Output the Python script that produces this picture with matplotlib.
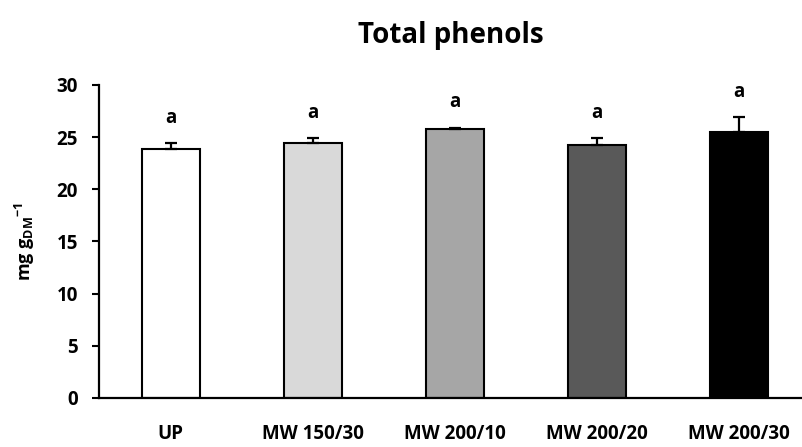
import matplotlib
matplotlib.use("Agg")
import matplotlib.pyplot as plt

categories = ["UP", "MW 150/30", "MW 200/10", "MW 200/20", "MW 200/30"]
values = [23.9, 24.4, 25.8, 24.2, 25.5]
errors = [0.55, 0.5, 0.1, 0.7, 1.4]
letters = ["a", "a", "a", "a", "a"]
colors = ["#ffffff", "#d9d9d9", "#a6a6a6", "#595959", "#000000"]
yticks = [0, 5, 10, 15, 20, 25, 30]

plt.rcParams["font.family"] = ["Open Sans", "DejaVu Sans"]
plt.rcParams["font.weight"] = "bold"
plt.rcParams["mathtext.fontset"] = "custom"
plt.rcParams["mathtext.rm"] = "Open Sans:bold"
plt.rcParams["mathtext.bf"] = "Open Sans:bold"
plt.rcParams["mathtext.it"] = "Open Sans:bold"


def main():
    fig = plt.figure(figsize=(8.03, 4.47), dpi=100)
    ax = fig.add_axes([0.123, 0.110, 0.877, 0.700])

    x = range(len(categories))
    ax.bar(x, values, width=0.41, color=colors, edgecolor="black", linewidth=1.5,
           yerr=[[0] * len(errors), errors],
           error_kw=dict(ecolor="black", elinewidth=1.6, capsize=4, capthick=1.6))

    # letras de significancia sobre las barras
    for i, (v, e, l) in enumerate(zip(values, errors, letters)):
        ax.annotate(l, (i, v + e), xytext=(0, 11), textcoords="offset points",
                    ha="center", va="bottom", fontsize=13.5, fontweight="bold")

    ax.set_xlim(-0.507, 4.45)
    ax.set_ylim(0, 30)
    ax.set_yticks(yticks)
    ax.set_yticklabels([str(t) for t in yticks], fontsize=13.5, fontweight="bold")
    ax.set_xticks(list(x))
    ax.set_xticklabels(categories, fontsize=13.5, fontweight="bold")
    ax.tick_params(axis="x", length=0, pad=19)
    ax.tick_params(axis="y", direction="out", length=5, width=1.5, pad=10)
    for s in ["top", "right"]:
        ax.spines[s].set_visible(False)
    for s in ["left", "bottom"]:
        ax.spines[s].set_linewidth(1.6)

    ax.set_ylabel(r"mg g$_{\mathrm{DM}}$$^{\mathrm{-1}}$", fontsize=13, fontweight="bold", labelpad=14)
    fig.text(0.561, 0.92, "Total phenols", ha="center", va="center", fontsize=20, fontweight="bold")

    fig.savefig("out.png", dpi=100)


if __name__ == "__main__":
    main()
